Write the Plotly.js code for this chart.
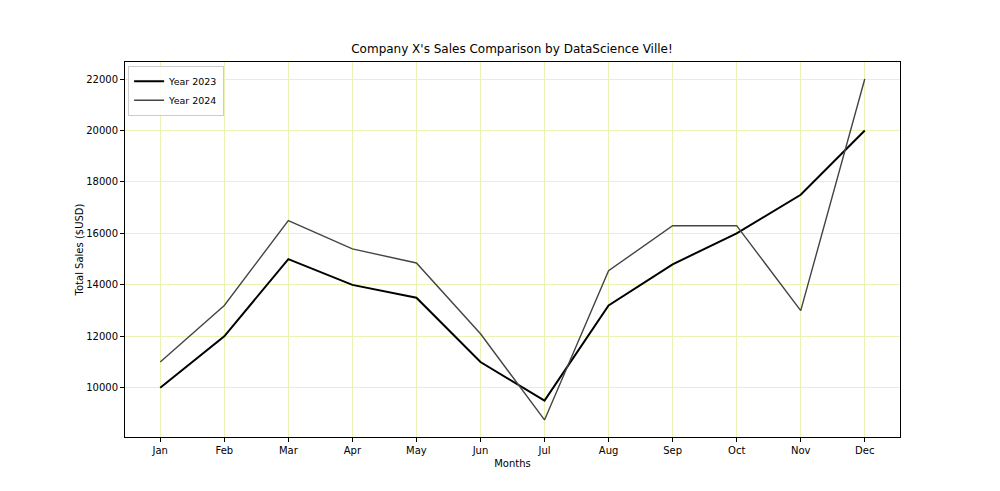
<!DOCTYPE html>
<html><head><meta charset="utf-8">
<script src="https://cdn.plot.ly/plotly-3.0.1.min.js"></script>
<style>body{margin:0;background:#fff}#chart{width:1000px;height:491px}</style>
</head><body><div id="chart"></div>
<script>
const months = ['Jan','Feb','Mar','Apr','May','Jun','Jul','Aug','Sep','Oct','Nov','Dec'];
const sales2023 = [10000,12000,15000,14000,13500,11000,9500,13200,14800,16000,17500,20000];
const sales2024 = [11000,13200,16500,15400,14850,12100,8750,14550,16300,16300,13000,22000];
const yTicks = [10000,12000,14000,16000,18000,20000,22000];

const font = {family:'DejaVu Sans, sans-serif', size:10, color:'#000'};
const traces = [
  {x:months.map((m,i)=>i), y:sales2023, name:'Year 2023', mode:'lines', line:{color:'#000000', width:2}},
  {x:months.map((m,i)=>i), y:sales2024, name:'Year 2024', mode:'lines', line:{color:'#444444', width:1.4}}
];
const layout = {
  width:1000, height:491,
  margin:{l:125, r:100, t:62, b:54},
  paper_bgcolor:'#fff', plot_bgcolor:'#fff',
  font:font,
  showlegend:true,
  title:{text:"Company X's Sales Comparison by DataScience Ville!", font:{family:'DejaVu Sans, sans-serif', size:12, color:'#000'}, x:0.512, xanchor:'center', y:0.9, yanchor:'middle'},
  xaxis:{range:[-0.55,11.55], tickmode:'array', tickvals:months.map((m,i)=>i), ticktext:months,
    showgrid:true, gridcolor:'#eaf2b4', gridwidth:1, zeroline:false,
    showline:true, linecolor:'#000', linewidth:1, mirror:true,
    ticks:'outside', ticklen:4, tickcolor:'#000',
    title:{text:'Months', font:{size:10}, standoff:4}},
  yaxis:{range:[8087.5,22662.5], tickmode:'array', tickvals:yTicks, ticktext:yTicks.map(String),
    showgrid:true, gridcolor:'#eaf2b4', gridwidth:1, zeroline:false,
    showline:true, linecolor:'#000', linewidth:1, mirror:true,
    ticks:'outside', ticklen:4, tickcolor:'#000',
    title:{text:'Total Sales ($USD)', font:{size:10}, standoff:0}},
  legend:{x:0.004, y:0.99, xanchor:'left', yanchor:'top', bgcolor:'rgba(255,255,255,0.8)', bordercolor:'#ccc', borderwidth:1, font:{size:9.5}, itemwidth:30, tracegroupgap:0}
};
Plotly.newPlot('chart', traces, layout, {displayModeBar:false, staticPlot:true});
</script></body></html>
